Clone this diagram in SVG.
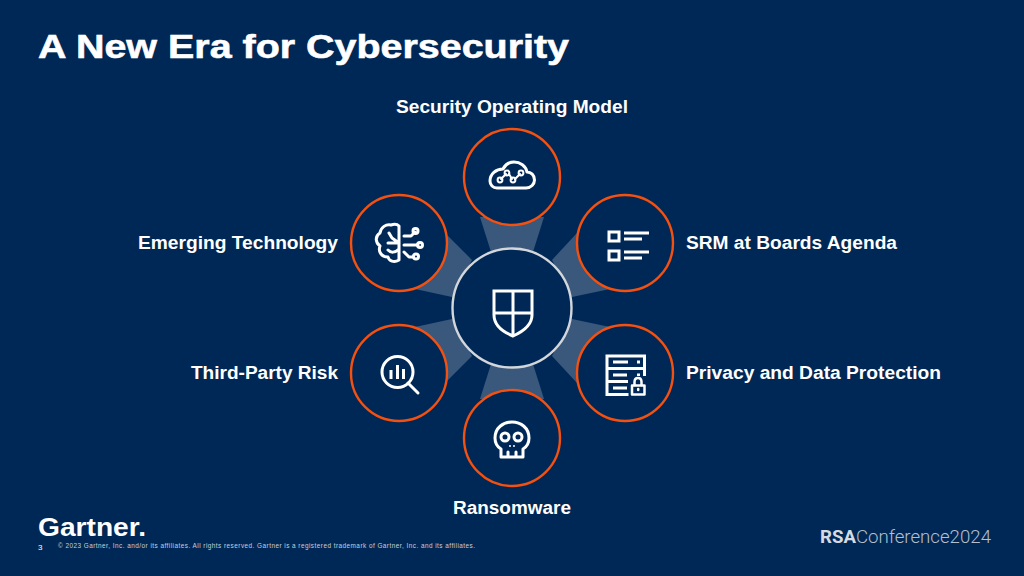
<svg xmlns="http://www.w3.org/2000/svg" width="1024" height="576" viewBox="0 0 1024 576">
<style>
.bg{fill:#002856}
.w{fill:#39587b}
.ring{fill:#002856;stroke:#f4500f;stroke-width:2.4}
.hub{fill:#002856;stroke:#d3d6da;stroke-width:2.4}
.ic{fill:none;stroke:#fff;stroke-width:3;stroke-linecap:round;stroke-linejoin:round}
.icb{fill:none;stroke:#fff;stroke-width:3;stroke-linecap:butt;stroke-linejoin:miter}
.l{font-family:"Liberation Sans",Arial,sans-serif;font-weight:700;font-size:18px;fill:#fff}
.s{font-family:"Liberation Sans",Arial,sans-serif;fill:#c9d0da}
</style>
<rect class="bg" width="1024" height="576"/>
<text id="title" x="38" y="58" font-family="'Liberation Sans',Arial,sans-serif" font-weight="700" font-size="34" fill="#fff" stroke="#fff" stroke-width="0.6" textLength="531" lengthAdjust="spacingAndGlyphs">A New Era for Cybersecurity</text>
<g id="connectors">
<polygon class="w" points="480,217 544,217 533,252 491,252"/>
<polygon class="w" points="577,233 610,289 572,297 552,260"/>
<polygon class="w" points="447,235 415,289 452,297 472,260"/>
<polygon class="w" points="577,383 610,327 572,319 552,356"/>
<polygon class="w" points="447,381 415,327 452,319 472,356"/>
<polygon class="w" points="480,399 544,399 533,364 491,364"/>
</g>
<g id="hub">
<circle class="hub" cx="512" cy="308" r="59.5"/>
<path class="icb" d="M494,291H532V315C532,326 522,332 513,336C503,332 494,326 494,315ZM513,291V336M494,313H532"/>
</g>
<g id="security-operating-model">
<circle class="ring" cx="512" cy="177" r="48"/>
<path class="ic" d="M497,188H526C531,188 534.500,184 534.500,180C534.500,175 531,172 527,172C526,166 520,162 514,162C509,162 505,165 503,169C496,169 490,174 490,181C490,185 493,188 497,188Z"/>
<path class="ic" style="stroke-width:2" d="M501,179L506,174M509,174L512,179M515,179L520,174"/>
<circle class="ic" style="stroke-width:2" cx="500" cy="180" r="2.400"/><circle class="ic" style="stroke-width:2" cx="507" cy="173" r="2.400"/><circle class="ic" style="stroke-width:2" cx="513" cy="180" r="2.400"/><circle class="ic" style="stroke-width:2" cx="521" cy="173" r="2.400"/>
<text class="l" x="396" y="113" textLength="232" lengthAdjust="spacingAndGlyphs">Security Operating Model</text>
</g>
<g id="srm-at-boards-agenda">
<circle class="ring" cx="625" cy="243" r="48"/>
<path class="icb" d="M609,232H619V241H609ZM609,251H619V260H609ZM624,233H649M624,239H642M624,252H649M624,258H642"/>
<text class="l" x="686" y="249" textLength="211" lengthAdjust="spacingAndGlyphs">SRM at Boards Agenda</text>
</g>
<g id="emerging-technology">
<circle class="ring" cx="399" cy="243" r="48"/>
<path class="ic" d="M399,226V260C394,263 389,261 388,257C381,257 378,251 380,246C375,242 375,236 380,233C381,227 386,224 391,225C394,224 397,224 399,226ZM399,243L392,238M392,238L389,233M399,243L388,243M399,249C395,253 391,253 388,250"/>
<path class="ic" d="M404,236H411L415,232M404,245H418M404,252L409,257H413"/>
<circle class="ic" cx="415.500" cy="231" r="2.500"/><circle class="ic" cx="420" cy="245" r="2.500"/><circle class="ic" cx="416" cy="256.500" r="2.500"/>
<text class="l" x="138" y="249" textLength="200" lengthAdjust="spacingAndGlyphs">Emerging Technology</text>
</g>
<g id="third-party-risk">
<circle class="ring" cx="399" cy="373" r="48"/>
<circle class="ic" cx="397.500" cy="372" r="15.500"/>
<path class="ic" d="M408,383L418,393"/>
<path class="icb" d="M391,370V379M397.500,365V379M403.500,369V379"/>
<text class="l" x="191" y="379" textLength="147" lengthAdjust="spacingAndGlyphs">Third-Party Risk</text>
</g>
<g id="privacy-and-data-protection">
<circle class="ring" cx="625" cy="373" r="48"/>
<path class="icb" d="M629,394.500H607V356H644.500V377M607,368.500H644.500M607,381.500H628M613,362H628M613,375H627M613,388H627M637,362H640M637,375H640"/>
<rect x="628.500" y="376" width="19" height="22" fill="#002856"/>
<path class="ic" style="stroke-width:2.500" d="M632,385.500H644.500V394.500H632Z"/>
<path class="ic" style="stroke-width:2.500" d="M634.500,385V382C634.500,376.500 641.500,376.500 641.500,382V385M638.200,389V390"/>
<text class="l" x="686" y="379" textLength="255" lengthAdjust="spacingAndGlyphs">Privacy and Data Protection</text>
</g>
<g id="ransomware">
<circle class="ring" cx="512" cy="438" r="48"/>
<path class="ic" d="M501,457V449C496,446 495,442 495,438C495,428 503,422 512,422C521,422 529,428 529,438C529,442 528,446 523,449V457ZM508,452V457M516,452V457"/>
<circle class="ic" cx="505" cy="437" r="4"/><circle class="ic" cx="518" cy="437" r="4"/>
<path class="ic" style="stroke-width:2" d="M510,446V446.100M514,446V446.100"/>
<text class="l" x="453" y="514" textLength="118" lengthAdjust="spacingAndGlyphs">Ransomware</text>
</g>
<g id="footer">
<text x="38" y="536" font-family="'Liberation Sans',Arial,sans-serif" font-weight="700" font-size="26" fill="#fff" textLength="108" lengthAdjust="spacingAndGlyphs">Gartner.</text>
<text x="38" y="550" font-family="'Liberation Sans',Arial,sans-serif" font-size="8" fill="#fff">3</text>
<text class="s" x="58" y="548" font-size="6.400" textLength="417" lengthAdjust="spacing">© 2023 Gartner, Inc. and/or its affiliates. All rights reserved. Gartner is a registered trademark of Gartner, Inc. and its affiliates.</text>
<text x="820" y="543" font-family="Roboto,'Liberation Sans',sans-serif" font-size="19" fill="#d5dbe3" textLength="171" lengthAdjust="spacingAndGlyphs"><tspan font-weight="700">RSA</tspan><tspan font-weight="300" fill="#b4bfcd">Conference2024</tspan></text>
</g>
</svg>
